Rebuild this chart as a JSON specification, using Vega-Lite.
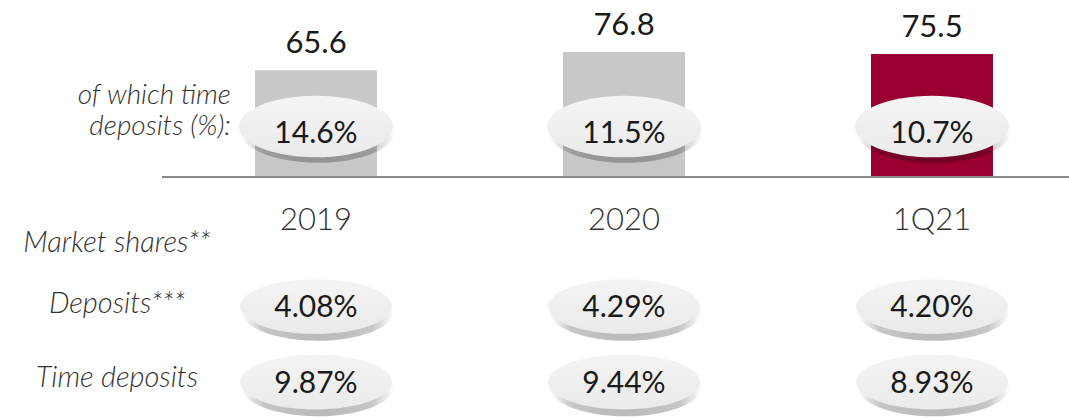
{
  "$schema": "https://vega.github.io/schema/vega-lite/v6.json",
  "width": 907,
  "height": 420,
  "autosize": {"type": "none"},
  "padding": {"left": 162, "top": 0, "right": 0, "bottom": 0},
  "background": "white",
  "config": {"view": {"stroke": null}, "font": "Lato"},
  "datasets": {
    "periods": [
      {"period": "2019", "total": 65.6, "time_share": "14.6%", "deposits": "4.08%", "time_deposits": "9.87%"},
      {"period": "2020", "total": 76.8, "time_share": "11.5%", "deposits": "4.29%", "time_deposits": "9.44%"},
      {"period": "1Q21", "total": 75.5, "time_share": "10.7%", "deposits": "4.20%", "time_deposits": "8.93%"}
    ],
    "labels": [
      {"key": "time_share_1", "col": "right", "label": "of which time"},
      {"key": "time_share_2", "col": "right", "label": "deposits (%):"},
      {"key": "mkt", "col": "center", "label": "Market shares**"},
      {"key": "dep", "col": "center", "label": "Deposits***"},
      {"key": "tdep", "col": "center", "label": "Time deposits"}
    ]
  },
  "resolve": {"scale": {"x": "independent"}},
  "layer": [
    {
      "data": {"name": "periods"},
      "encoding": {
        "x": {"field": "period", "type": "nominal", "sort": null, "axis": null,
          "scale": {"type": "band", "domain": ["2019", "2020", "1Q21"], "range": [0, 924], "paddingInner": 0.604, "paddingOuter": 0.302}}
      },
      "layer": [
        {
          "mark": {"type": "bar"},
          "encoding": {
            "y": {"field": "total", "type": "quantitative", "axis": null, "scale": {"domain": [-149.3, 108.75], "nice": false, "zero": false}},
            "color": {"field": "period", "type": "nominal", "legend": null, "scale": {"domain": ["2019", "2020", "1Q21"], "range": ["#c8c8c8", "#c8c8c8", "#990031"]}}
          }
        },
        {
          "mark": {"type": "text", "baseline": "alphabetic", "dy": -17, "fontSize": 31, "color": "#1a1a1a"},
          "encoding": {
            "y": {"field": "total", "type": "quantitative", "axis": null, "scale": {"domain": [-149.3, 108.75], "nice": false, "zero": false}},
            "text": {"field": "total", "type": "quantitative", "format": ".1f"}
          }
        },
        {
          "mark": {"type": "text", "baseline": "alphabetic", "fontSize": 31, "fontWeight": 300, "color": "#333333"},
          "encoding": {
            "y": {"datum": -32.6, "type": "quantitative", "axis": null, "scale": {"domain": [-149.3, 108.75], "nice": false, "zero": false}},
            "text": {"field": "period", "type": "nominal"}
          }
        },
        {
          "mark": {"type": "point", "filled": true, "size": 23716, "strokeWidth": 0,
            "shape": "M -0.98 0.07 C -0.98 -0.1509 -0.5312 -0.33 0.02 -0.33 C 0.5712 -0.33 1.02 -0.1509 1.02 0.07 C 1.02 0.2909 0.5712 0.47 0.02 0.47 C -0.5312 0.47 -0.98 0.2909 -0.98 0.07 Z",
            "fill": {"gradient": "radial", "x1": 0.5, "y1": 0.5, "r1": 0, "x2": 0.5, "y2": 0.5, "r2": 0.5, "stops": [{"offset": 0, "color": "rgba(0,0,0,0.3)"}, {"offset": 0.75, "color": "rgba(0,0,0,0.22)"}, {"offset": 1, "color": "rgba(0,0,0,0)"}]},
            "opacity": 1},
          "encoding": {
            "y": {"datum": 31.0, "type": "quantitative", "axis": null, "scale": {"domain": [-149.3, 108.75], "nice": false, "zero": false}}
          }
        },
        {
          "mark": {"type": "point", "filled": true, "size": 23716, "strokeWidth": 0, "opacity": 1,
            "shape": "M -1 0 C -1 -0.2209 -0.5523 -0.4 0 -0.4 C 0.5523 -0.4 1 -0.2209 1 0 C 1 0.2209 0.5523 0.4 0 0.4 C -0.5523 0.4 -1 0.2209 -1 0 Z",
            "fill": {"gradient": "linear", "x1": 0, "y1": 0, "x2": 0, "y2": 1, "stops": [{"offset": 0, "color": "#f4f4f4"}, {"offset": 1, "color": "#eaeaea"}]}},
          "encoding": {
            "y": {"datum": 31.0, "type": "quantitative", "axis": null, "scale": {"domain": [-149.3, 108.75], "nice": false, "zero": false}}
          }
        },
        {
          "mark": {"type": "text", "baseline": "alphabetic", "fontSize": 30, "color": "#1a1a1a"},
          "encoding": {
            "y": {"datum": 20.9, "type": "quantitative", "axis": null, "scale": {"domain": [-149.3, 108.75], "nice": false, "zero": false}},
            "text": {"field": "time_share", "type": "nominal"}
          }
        },
        {
          "mark": {"type": "point", "filled": true, "size": 23104, "strokeWidth": 0, "opacity": 1,
            "shape": "M -0.98 0.07 C -0.98 -0.1309 -0.5312 -0.31 0.02 -0.31 C 0.5712 -0.31 1.02 -0.1309 1.02 0.07 C 1.02 0.2709 0.5712 0.45 0.02 0.45 C -0.5312 0.45 -0.98 0.2709 -0.98 0.07 Z",
            "fill": {"gradient": "radial", "x1": 0.5, "y1": 0.5, "r1": 0, "x2": 0.5, "y2": 0.5, "r2": 0.5, "stops": [{"offset": 0, "color": "rgba(0,0,0,0.3)"}, {"offset": 0.75, "color": "rgba(0,0,0,0.22)"}, {"offset": 1, "color": "rgba(0,0,0,0)"}]}},
          "encoding": {
            "y": {"datum": -79.6, "type": "quantitative", "axis": null, "scale": {"domain": [-149.3, 108.75], "nice": false, "zero": false}}
          }
        },
        {
          "mark": {"type": "point", "filled": true, "size": 23104, "strokeWidth": 0, "opacity": 1,
            "shape": "M -1 0 C -1 -0.1988 -0.5523 -0.36 0 -0.36 C 0.5523 -0.36 1 -0.1988 1 0 C 1 0.1988 0.5523 0.36 0 0.36 C -0.5523 0.36 -1 0.1988 -1 0 Z",
            "fill": {"gradient": "linear", "x1": 0, "y1": 0, "x2": 0, "y2": 1, "stops": [{"offset": 0, "color": "#f4f4f4"}, {"offset": 1, "color": "#eaeaea"}]}},
          "encoding": {
            "y": {"datum": -79.6, "type": "quantitative", "axis": null, "scale": {"domain": [-149.3, 108.75], "nice": false, "zero": false}}
          }
        },
        {
          "mark": {"type": "text", "baseline": "alphabetic", "fontSize": 30, "color": "#1a1a1a"},
          "encoding": {
            "y": {"datum": -86.0, "type": "quantitative", "axis": null, "scale": {"domain": [-149.3, 108.75], "nice": false, "zero": false}},
            "text": {"field": "deposits", "type": "nominal"}
          }
        },
        {
          "mark": {"type": "point", "filled": true, "size": 23104, "strokeWidth": 0, "opacity": 1,
            "shape": "M -0.98 0.07 C -0.98 -0.1309 -0.5312 -0.31 0.02 -0.31 C 0.5712 -0.31 1.02 -0.1309 1.02 0.07 C 1.02 0.2709 0.5712 0.45 0.02 0.45 C -0.5312 0.45 -0.98 0.2709 -0.98 0.07 Z",
            "fill": {"gradient": "radial", "x1": 0.5, "y1": 0.5, "r1": 0, "x2": 0.5, "y2": 0.5, "r2": 0.5, "stops": [{"offset": 0, "color": "rgba(0,0,0,0.3)"}, {"offset": 0.75, "color": "rgba(0,0,0,0.22)"}, {"offset": 1, "color": "rgba(0,0,0,0)"}]}},
          "encoding": {
            "y": {"datum": -126.0, "type": "quantitative", "axis": null, "scale": {"domain": [-149.3, 108.75], "nice": false, "zero": false}}
          }
        },
        {
          "mark": {"type": "point", "filled": true, "size": 23104, "strokeWidth": 0, "opacity": 1,
            "shape": "M -1 0 C -1 -0.1988 -0.5523 -0.36 0 -0.36 C 0.5523 -0.36 1 -0.1988 1 0 C 1 0.1988 0.5523 0.36 0 0.36 C -0.5523 0.36 -1 0.1988 -1 0 Z",
            "fill": {"gradient": "linear", "x1": 0, "y1": 0, "x2": 0, "y2": 1, "stops": [{"offset": 0, "color": "#f4f4f4"}, {"offset": 1, "color": "#eaeaea"}]}},
          "encoding": {
            "y": {"datum": -126.0, "type": "quantitative", "axis": null, "scale": {"domain": [-149.3, 108.75], "nice": false, "zero": false}}
          }
        },
        {
          "mark": {"type": "text", "baseline": "alphabetic", "fontSize": 30, "color": "#1a1a1a"},
          "encoding": {
            "y": {"datum": -132.7, "type": "quantitative", "axis": null, "scale": {"domain": [-149.3, 108.75], "nice": false, "zero": false}},
            "text": {"field": "time_deposits", "type": "nominal"}
          }
        }
      ]
    },
    {
      "data": {"name": "periods"},
      "mark": {"type": "rule", "color": "#8c8c8c", "strokeWidth": 2},
      "encoding": {
        "y": {"datum": 0, "type": "quantitative", "axis": null, "scale": {"domain": [-149.3, 108.75], "nice": false, "zero": false}}
      }
    },
    {
      "data": {"name": "labels"},
      "encoding": {
        "x": {"field": "col", "type": "nominal", "axis": null, "scale": {"type": "point", "domain": ["center", "right"], "range": [-45, 69], "padding": 0}}
      },
      "layer": [
        {
          "transform": [{"filter": "datum.key === 'time_share_1'"}],
          "mark": {"type": "text", "align": "right", "baseline": "alphabetic", "fontSize": 28, "fontStyle": "italic", "fontWeight": 300, "color": "#333333"},
          "encoding": {
            "y": {"datum": 44.9, "type": "quantitative", "axis": null, "scale": {"domain": [-149.3, 108.75], "nice": false, "zero": false}},
            "text": {"field": "label"}
          }
        },
        {
          "transform": [{"filter": "datum.key === 'time_share_2'"}],
          "mark": {"type": "text", "align": "right", "baseline": "alphabetic", "fontSize": 28, "fontStyle": "italic", "fontWeight": 300, "color": "#333333"},
          "encoding": {
            "y": {"datum": 26.0, "type": "quantitative", "axis": null, "scale": {"domain": [-149.3, 108.75], "nice": false, "zero": false}},
            "text": {"field": "label"}
          }
        },
        {
          "transform": [{"filter": "datum.key === 'mkt'"}],
          "mark": {"type": "text", "align": "center", "baseline": "alphabetic", "fontSize": 29, "fontStyle": "italic", "fontWeight": 300, "color": "#333333"},
          "encoding": {
            "y": {"datum": -46.1, "type": "quantitative", "axis": null, "scale": {"domain": [-149.3, 108.75], "nice": false, "zero": false}},
            "text": {"field": "label"}
          }
        },
        {
          "transform": [{"filter": "datum.key === 'dep'"}],
          "mark": {"type": "text", "align": "center", "baseline": "alphabetic", "fontSize": 29, "fontStyle": "italic", "fontWeight": 300, "color": "#333333"},
          "encoding": {
            "y": {"datum": -83.6, "type": "quantitative", "axis": null, "scale": {"domain": [-149.3, 108.75], "nice": false, "zero": false}},
            "text": {"field": "label"}
          }
        },
        {
          "transform": [{"filter": "datum.key === 'tdep'"}],
          "mark": {"type": "text", "align": "center", "baseline": "alphabetic", "fontSize": 29, "fontStyle": "italic", "fontWeight": 300, "color": "#333333"},
          "encoding": {
            "y": {"datum": -129.0, "type": "quantitative", "axis": null, "scale": {"domain": [-149.3, 108.75], "nice": false, "zero": false}},
            "text": {"field": "label"}
          }
        }
      ]
    }
  ]
}
